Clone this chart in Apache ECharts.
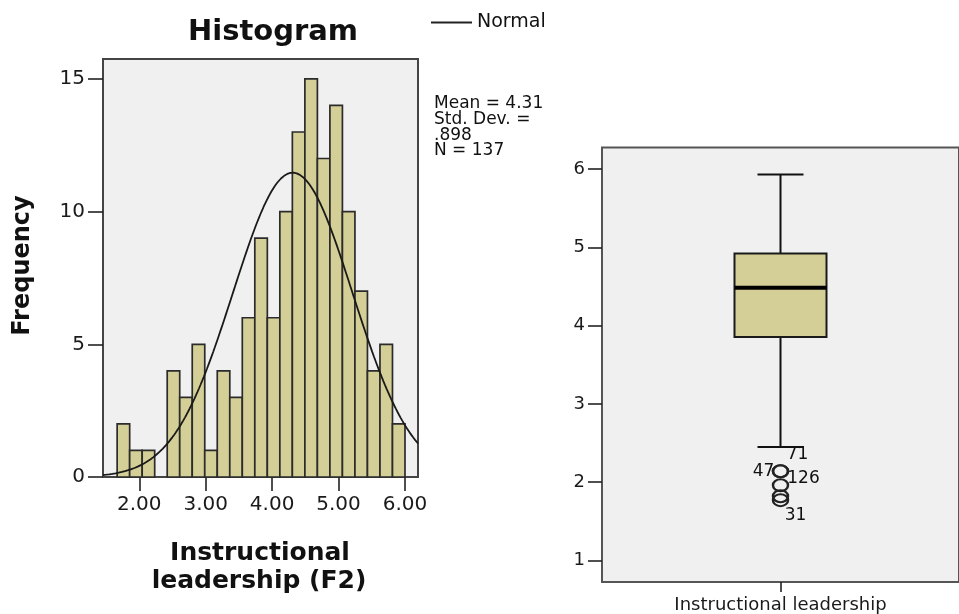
<!DOCTYPE html>
<html><head><meta charset="utf-8">
<script src="https://cdn.jsdelivr.net/npm/echarts@6/dist/echarts.min.js"></script>
<style>html,body{margin:0;padding:0;background:#fff}#c{width:959px;height:614px}</style>
</head><body><div id="c"></div>
<script>
// ---------- data ----------
const binCounts = [2,1,1,0,4,3,5,1,4,3,6,9,6,10,13,15,12,14,10,7,4,5,2];
const binStart = 1.667;
const binWidth = 0.1884;
const histXTicks = [2,3,4,5,6];
const histYTicks = [0,5,10,15];
const statMean = 4.31;
const statSD = 0.898;
const statN = 137;
const boxCategories = ['Instructional leadership'];
const boxLow = [2.45];
const boxQ1 = [3.854];
const boxMedian = [4.486];
const boxQ3 = [4.922];
const boxHigh = [5.931];
const outlierValues = [2.14, 2.14, 1.96, 1.82, 1.77];
const outlierIds = ['71', '47', '126', '', '31'];
const boxYTicks = [1,2,3,4,5,6];

// ---------- build ----------
const FONT = 'DejaVu Sans';
const histData = binCounts.map((c, i) => [binStart + i * binWidth, binStart + (i + 1) * binWidth, c]);
const xMin = 1.454, xMax = 6.196;
const normalData = [];
for (let i = 0; i <= 200; i++) {
  const x = xMin + (xMax - xMin) * i / 200;
  const z = (x - statMean) / statSD;
  normalData.push([x, statN * binWidth / (statSD * Math.sqrt(2 * Math.PI)) * Math.exp(-0.5 * z * z)]);
}
const boxData = boxCategories.map((c, i) => [i, boxLow[i], boxQ1[i], boxMedian[i], boxQ3[i], boxHigh[i]]);
const labelOffsets = { '71': [17, -17], '47': [-17, 0], '126': [23, -7], '31': [15, 15], '': [0, 0] };
const outlierData = outlierValues.map((v, i) => ({
  value: [0, v],
  label: { show: outlierIds[i] !== '', formatter: outlierIds[i], offset: labelOffsets[outlierIds[i]] }
}));

const chart = echarts.init(document.getElementById('c'));
const tickStyle = { color: '#222', width: 1.6 };
chart.setOption({
  animation: false,
  textStyle: { fontFamily: FONT },
  legend: {
    data: ['Normal'], left: 426, top: 8, icon: 'rect', itemWidth: 41, itemHeight: 2,
    textStyle: { fontSize: 19, color: '#111', fontFamily: FONT }
  },
  grid: [
    { left: 103, top: 59, width: 315, height: 418, show: true, backgroundColor: '#f0f0f0', borderColor: '#444', borderWidth: 2 },
    { left: 602, top: 147.5, width: 367, height: 436.5, show: true, backgroundColor: '#f0f0f0', borderColor: '#555', borderWidth: 2 }
  ],
  xAxis: [
    { type: 'value', gridIndex: 0, min: xMin, max: xMax,
      axisLine: { show: false }, splitLine: { show: false },
      axisTick: { show: true, length: 14, lineStyle: tickStyle, customValues: histXTicks },
      axisLabel: { margin: 18, fontSize: 20, color: '#1a1a1a', fontFamily: FONT, customValues: histXTicks, formatter: v => v.toFixed(2) } },
    { type: 'category', gridIndex: 1, data: boxCategories,
      axisLine: { show: false },
      axisTick: { show: true, length: 10, alignWithLabel: true, lineStyle: tickStyle },
      axisLabel: { margin: 14, fontSize: 18, color: '#1a1a1a', fontFamily: FONT } }
  ],
  yAxis: [
    { type: 'value', gridIndex: 0, min: 0, max: 15.75,
      axisLine: { show: false }, splitLine: { show: false },
      axisTick: { show: true, length: 15, lineStyle: tickStyle, customValues: histYTicks },
      axisLabel: { margin: 18, fontSize: 20, color: '#1a1a1a', fontFamily: FONT, customValues: histYTicks } },
    { type: 'value', gridIndex: 1, min: 0.724, max: 6.277,
      axisLine: { show: false }, splitLine: { show: false },
      axisTick: { show: true, length: 14, lineStyle: tickStyle, customValues: boxYTicks },
      axisLabel: { margin: 17, fontSize: 18, color: '#1a1a1a', fontFamily: FONT, customValues: boxYTicks } }
  ],
  series: [
    { type: 'custom', name: 'Histogram', xAxisIndex: 0, yAxisIndex: 0, data: histData,
      encode: { x: [0, 1], y: 2 },
      renderItem: (params, api) => {
        const c = api.value(2);
        if (!c) return null;
        const p0 = api.coord([api.value(0), c]);
        const p1 = api.coord([api.value(1), 0]);
        return { type: 'rect', shape: { x: p0[0], y: p0[1], width: p1[0] - p0[0], height: p1[1] - p0[1] },
          style: { fill: '#d4cf96', stroke: '#2b2b2b', lineWidth: 1.7 } };
      } },
    { type: 'line', name: 'Normal', xAxisIndex: 0, yAxisIndex: 0, data: normalData,
      showSymbol: false, symbol: 'none', color: '#222', lineStyle: { color: '#1a1a1a', width: 1.8 } },
    { type: 'custom', name: 'Box', xAxisIndex: 1, yAxisIndex: 1, data: boxData,
      encode: { x: 0, y: [1, 2, 3, 4, 5] },
      renderItem: (params, api) => {
        const xi = api.value(0);
        const pl = api.coord([xi, api.value(1)]);
        const p1 = api.coord([xi, api.value(2)]);
        const pm = api.coord([xi, api.value(3)]);
        const p3 = api.coord([xi, api.value(4)]);
        const ph = api.coord([xi, api.value(5)]);
        const cx = pl[0], hw = 46, cw = 23;
        const ls = { stroke: '#111', lineWidth: 2 };
        return { type: 'group', children: [
          { type: 'line', shape: { x1: cx, y1: ph[1], x2: cx, y2: p3[1] }, style: ls },
          { type: 'line', shape: { x1: cx, y1: p1[1], x2: cx, y2: pl[1] }, style: ls },
          { type: 'line', shape: { x1: cx - cw, y1: ph[1], x2: cx + cw, y2: ph[1] }, style: ls },
          { type: 'line', shape: { x1: cx - cw, y1: pl[1], x2: cx + cw, y2: pl[1] }, style: ls },
          { type: 'rect', shape: { x: cx - hw, y: p3[1], width: 2 * hw, height: p1[1] - p3[1] },
            style: { fill: '#d4cf96', stroke: '#1a1a1a', lineWidth: 2 } },
          { type: 'line', shape: { x1: cx - hw, y1: pm[1], x2: cx + hw, y2: pm[1] }, style: { stroke: '#000', lineWidth: 4 } }
        ] };
      } },
    { type: 'scatter', name: 'Outliers', xAxisIndex: 1, yAxisIndex: 1, data: outlierData,
      symbol: 'circle', symbolSize: [15, 12],
      itemStyle: { color: 'rgba(0,0,0,0)', borderColor: '#222', borderWidth: 2.2, opacity: 1 },
      label: { position: 'inside', fontSize: 17, color: '#111', fontFamily: FONT } }
  ],
  graphic: [
    { type: 'text', x: 273, y: 32, style: { text: 'Histogram', font: 'bold 29px "DejaVu Sans"', fill: '#111', align: 'center', verticalAlign: 'middle' } },
    { type: 'text', x: 23, y: 265.5, rotation: Math.PI / 2, style: { text: 'Frequency', font: 'bold 24px "DejaVu Sans"', fill: '#111', align: 'center', verticalAlign: 'middle' } },
    { type: 'text', x: 260, y: 553, style: { text: 'Instructional', font: 'bold 25px "DejaVu Sans"', fill: '#111', align: 'center', verticalAlign: 'middle' } },
    { type: 'text', x: 259, y: 581, style: { text: 'leadership (F2)', font: 'bold 25px "DejaVu Sans"', fill: '#111', align: 'center', verticalAlign: 'middle' } },
    { type: 'text', x: 434, y: 104, style: { text: 'Mean = ' + statMean.toFixed(2), font: '17px "DejaVu Sans"', fill: '#111', verticalAlign: 'middle' } },
    { type: 'text', x: 434, y: 120, style: { text: 'Std. Dev. =', font: '17px "DejaVu Sans"', fill: '#111', verticalAlign: 'middle' } },
    { type: 'text', x: 434, y: 136, style: { text: statSD.toFixed(3).replace(/^0/, ''), font: '17px "DejaVu Sans"', fill: '#111', verticalAlign: 'middle' } },
    { type: 'text', x: 434, y: 151, style: { text: 'N = ' + statN, font: '17px "DejaVu Sans"', fill: '#111', verticalAlign: 'middle' } }
  ]
});
</script></body></html>
